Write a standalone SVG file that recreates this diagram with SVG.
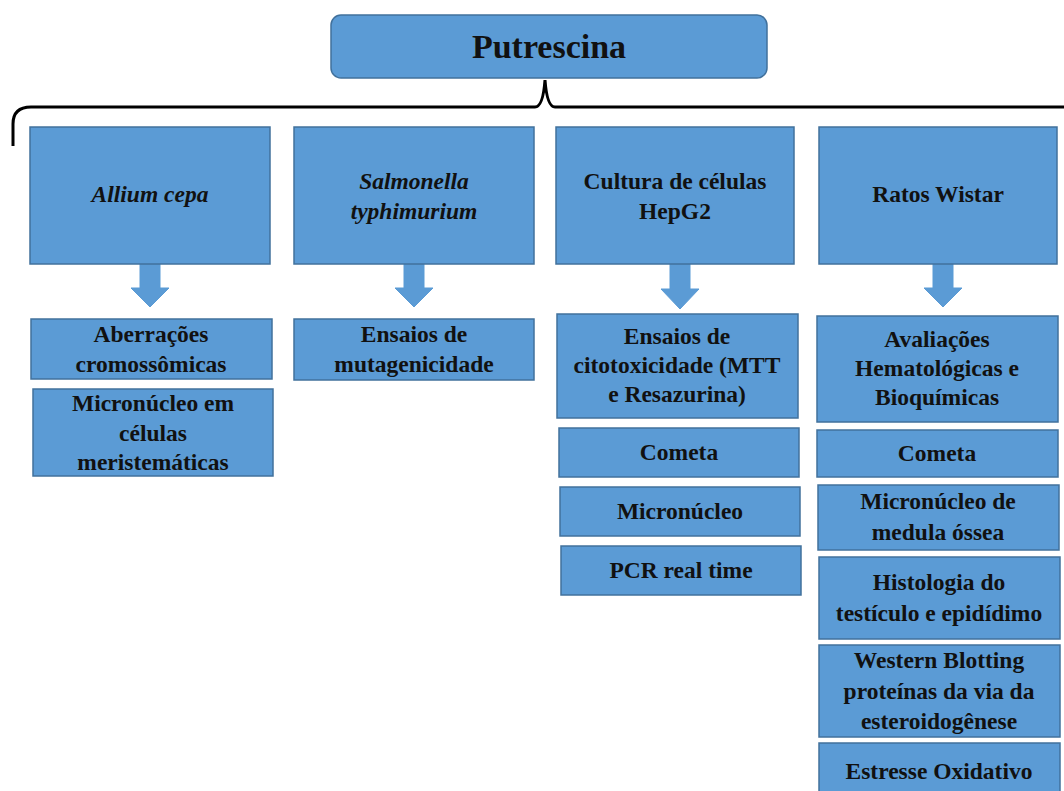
<svg xmlns="http://www.w3.org/2000/svg" width="1064" height="791" viewBox="0 0 1064 791">
<style>
.b{fill:#5B9BD5;stroke:#41719C;stroke-width:1.5}
.t{font-family:"Liberation Serif","Times New Roman",serif;font-weight:bold;font-size:23.5px;fill:#111;text-anchor:middle}
.i{font-style:italic}
.ar{fill:#5B9BD5;stroke:#5B9BD5;stroke-width:1}
</style>
<rect width="1064" height="791" fill="#fff"/>
<g id="root">
<rect class="b" x="331" y="15" width="436" height="63" rx="10"/>
<text class="t" x="549" y="58" style="font-size:34px">Putrescina</text>
</g>
<g id="connectors">
<path d="M13,146 L13,124 Q13,107 31,107 L535,107 Q543,107 545,80 Q547,107 555,107 L1064,107" fill="none" stroke="#000" stroke-width="3"/>
<path class="ar" d="M140,264 L160,264 L160,288 L169,288 L150,307 L131,288 L140,288 Z"/>
<path class="ar" d="M404,264 L424,264 L424,288 L433,288 L414,307 L395,288 L404,288 Z"/>
<path class="ar" d="M670,264 L690,264 L690,289 L699,289 L680,309 L661,289 L670,289 Z"/>
<path class="ar" d="M933,264 L953,264 L953,288 L962,288 L943,307 L924,288 L933,288 Z"/>
</g>
<g id="allium">
<rect class="b" x="30" y="127" width="240" height="137"/>
<text class="t i" x="150" y="202">Allium cepa</text>
</g>
<g id="salmonella">
<rect class="b" x="294" y="127" width="240" height="137"/>
<text class="t i" x="414" y="189">Salmonella</text>
<text class="t i" x="414" y="219">typhimurium</text>
</g>
<g id="hepg2">
<rect class="b" x="556" y="127" width="238" height="137"/>
<text class="t" x="675" y="189">Cultura de células</text>
<text class="t" x="675" y="219">HepG2</text>
</g>
<g id="wistar">
<rect class="b" x="819" y="127" width="238" height="137"/>
<text class="t" x="938" y="202">Ratos Wistar</text>
</g>
<g id="aberracoes">
<rect class="b" x="31" y="319" width="241" height="60"/>
<text class="t" x="151" y="342">Aberrações</text>
<text class="t" x="151" y="372">cromossômicas</text>
</g>
<g id="micronucleo-meristem">
<rect class="b" x="33" y="389" width="240" height="87"/>
<text class="t" x="153" y="411">Micronúcleo em</text>
<text class="t" x="153" y="441">células</text>
<text class="t" x="153" y="470">meristemáticas</text>
</g>
<g id="mutagenicidade">
<rect class="b" x="294" y="319" width="240" height="61"/>
<text class="t" x="414" y="342">Ensaios de</text>
<text class="t" x="414" y="372">mutagenicidade</text>
</g>
<g id="citotoxicidade">
<rect class="b" x="557" y="314" width="241" height="104"/>
<text class="t" x="677" y="344">Ensaios de</text>
<text class="t" x="677" y="373">citotoxicidade (MTT</text>
<text class="t" x="677" y="402">e Resazurina)</text>
</g>
<g id="cometa-hepg2">
<rect class="b" x="559" y="428" width="240" height="49"/>
<text class="t" x="679" y="460">Cometa</text>
</g>
<g id="micronucleo-hepg2">
<rect class="b" x="560" y="487" width="240" height="49"/>
<text class="t" x="680" y="519">Micronúcleo</text>
</g>
<g id="pcr">
<rect class="b" x="561" y="546" width="240" height="49"/>
<text class="t" x="681" y="578">PCR real time</text>
</g>
<g id="avaliacoes">
<rect class="b" x="817" y="316" width="241" height="106"/>
<text class="t" x="937" y="347">Avaliações</text>
<text class="t" x="937" y="376">Hematológicas e</text>
<text class="t" x="937" y="405">Bioquímicas</text>
</g>
<g id="cometa-wistar">
<rect class="b" x="817" y="430" width="241" height="47"/>
<text class="t" x="937" y="461">Cometa</text>
</g>
<g id="micronucleo-medula">
<rect class="b" x="818" y="485" width="241" height="65"/>
<text class="t" x="938" y="509">Micronúcleo de</text>
<text class="t" x="938" y="540">medula óssea</text>
</g>
<g id="histologia">
<rect class="b" x="819" y="557" width="241" height="82"/>
<text class="t" x="939" y="590">Histologia do</text>
<text class="t" x="939" y="621">testículo e epidídimo</text>
</g>
<g id="western">
<rect class="b" x="819" y="645" width="241" height="92"/>
<text class="t" x="939" y="668">Western Blotting</text>
<text class="t" x="939" y="699">proteínas da via da</text>
<text class="t" x="939" y="729">esteroidogênese</text>
</g>
<g id="estresse">
<rect class="b" x="819" y="743" width="241" height="60"/>
<text class="t" x="939" y="779">Estresse Oxidativo</text>
</g>
</svg>
